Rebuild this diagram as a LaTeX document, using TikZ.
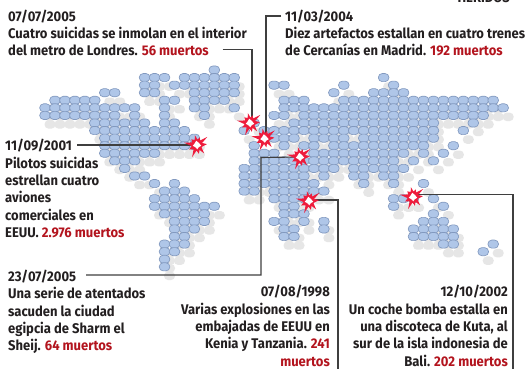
\documentclass[tikz,border=0pt]{standalone}
\usepackage{fontspec}
\setmainfont{Fira Sans}[FakeStretch=0.93]
\definecolor{blob}{HTML}{AFC6E8}
\definecolor{blobline}{HTML}{8299BF}
\definecolor{shade}{HTML}{E6E6E6}
\definecolor{dead}{HTML}{B3141E}
\definecolor{ink}{HTML}{231F20}
\definecolor{leader}{HTML}{3F3F3F}
\definecolor{burst}{HTML}{EE1C3C}
\newcommand{\mapx}[1]{45+9.96*#1}
\newcommand{\mapy}[1]{70+7.57*#1}
\newcommand{\dd}[1]{\textcolor{dead}{#1}}
\newcommand{\boom}[1]{%
  \fill[burst] ($(#1)+(12:6)$) -- ($(#1)+(25:5)$) -- ($(#1)+(50:11)$) -- ($(#1)+(62:5.5)$) -- ($(#1)+(78:9)$) -- ($(#1)+(95:5.5)$) -- ($(#1)+(112:13)$) -- ($(#1)+(128:5.5)$) -- ($(#1)+(150:9)$) -- ($(#1)+(168:5.5)$) -- ($(#1)+(190:13)$) -- ($(#1)+(208:5.5)$) -- ($(#1)+(225:8)$) -- ($(#1)+(245:5.5)$) -- ($(#1)+(258:10)$) -- ($(#1)+(275:5.5)$) -- ($(#1)+(290:8)$) -- ($(#1)+(305:5.5)$) -- ($(#1)+(322:13)$) -- ($(#1)+(338:5.5)$) -- ($(#1)+(355:10)$) -- cycle;
  \fill[white] ($(#1)+(10:4.3)$) -- ($(#1)+(50:2.8)$) -- ($(#1)+(85:4.3)$) -- ($(#1)+(130:2.8)$) -- ($(#1)+(170:4.3)$) -- ($(#1)+(215:2.8)$) -- ($(#1)+(260:4.3)$) -- ($(#1)+(310:2.8)$) -- cycle;
}
\usetikzlibrary{calc}
\tikzset{
  x=1pt,y=-1pt,
  dot/.style={draw=blobline,line width=.65pt,fill=blob,rounded corners=3.9pt},
  shadowdot/.style={fill=shade,rounded corners=4pt},
  lead/.style={draw=leader,line width=1.1pt},
  caption/.style={inner sep=0pt,text=ink,font=\fontsize{14}{17.4}\selectfont\bfseries},
}
\begin{document}
\begin{tikzpicture}
\useasboundingbox (0,0) rectangle (529,369);
\fill[white] (0,0) rectangle (529,369);
\def\maprows{0/17,
1/10,1/11,1/12,1/14,1/15,1/16,1/17,1/18,1/19,1/34,
2/10,2/11,2/13,2/14,2/15,2/16,2/17,2/18,2/19,2/23,2/24,2/30,2/35,
3/6,3/7,3/10,3/11,3/15,3/16,3/17,3/18,3/19,3/29,3/33,3/34,3/35,3/36,
4/1,4/2,4/3,4/4,4/5,4/12,4/13,4/15,4/16,4/17,4/18,4/24,4/25,4/26,4/30,4/31,4/32,4/33,4/34,4/35,4/36,4/37,4/38,4/39,4/40,4/41,4/42,4/43,4/44,4/45,
5/0,5/1,5/2,5/3,5/4,5/5,5/6,5/7,5/8,5/9,5/12,5/15,5/16,5/19,5/24,5/25,5/26,5/27,5/28,5/29,5/30,5/31,5/32,5/33,5/34,5/35,5/36,5/37,5/38,5/39,5/40,5/41,5/42,5/43,5/44,5/45,5/46,
6/0,6/1,6/2,6/3,6/4,6/5,6/6,6/7,6/9,6/12,6/16,6/23,6/24,6/26,6/27,6/28,6/29,6/30,6/31,6/32,6/33,6/34,6/35,6/36,6/37,6/38,6/39,6/40,6/41,6/42,6/43,6/44,
7/5,7/6,7/7,7/8,7/9,7/10,7/12,7/13,7/21,7/25,7/26,7/27,7/28,7/29,7/30,7/31,7/32,7/33,7/34,7/35,7/36,7/37,7/38,7/39,7/43,
8/5,8/6,8/7,8/8,8/9,8/10,8/11,8/12,8/13,8/14,8/20,8/22,8/23,8/24,8/25,8/26,8/27,8/28,8/29,8/30,8/31,8/32,8/33,8/34,8/35,8/36,8/37,8/38,8/39,8/42,
9/6,9/7,9/8,9/9,9/10,9/11,9/12,9/13,9/14,9/15,9/23,9/24,9/25,9/27,9/28,9/29,9/30,9/32,9/33,9/34,9/35,9/36,9/37,9/38,9/39,
10/6,10/7,10/8,10/9,10/10,10/11,10/12,10/13,10/14,10/15,10/21,10/24,10/26,10/27,10/29,10/30,10/31,10/32,10/33,10/34,10/35,10/36,10/37,10/38,10/41,
11/6,11/7,11/8,11/9,11/10,11/11,11/21,11/22,11/23,11/27,11/28,11/29,11/30,11/31,11/32,11/33,11/34,11/35,11/36,11/38,11/40,
12/7,12/8,12/9,12/21,12/22,12/23,12/24,12/25,12/26,12/27,12/28,12/29,12/30,12/31,12/32,12/33,12/34,12/35,12/37,12/39,
13/8,13/20,13/21,13/22,13/23,13/24,13/25,13/26,13/27,13/28,13/29,13/31,13/32,13/33,13/34,13/35,13/36,
14/9,14/10,14/20,14/21,14/22,14/23,14/24,14/25,14/26,14/28,14/31,14/32,14/34,14/35,
15/11,15/13,15/20,15/21,15/22,15/23,15/24,15/25,15/26,15/27,15/32,15/35,15/38,
16/12,16/13,16/14,16/20,16/21,16/23,16/24,16/25,16/26,16/27,16/28,
17/11,17/12,17/13,17/14,17/15,17/23,17/24,17/25,17/26,17/35,17/36,17/37,17/39,
18/11,18/12,18/13,18/14,18/15,18/16,18/17,18/24,18/25,18/35,18/40,
19/12,19/13,19/14,19/15,19/16,19/24,19/25,19/26,19/39,
20/13,20/14,20/15,20/16,20/23,20/24,20/26,20/28,20/38,20/39,20/40,
21/13,21/14,21/15,21/24,21/25,21/28,21/37,21/38,21/39,21/40,21/41,
22/13,22/14,22/24,22/25,22/37,22/38,22/39,22/40,22/41,
23/12,23/13,23/14,23/40,23/41,23/45,
24/12,24/13,24/44,
25/12,
26/12}
\foreach \r/\c in \maprows
  \path[shadowdot] ({\mapx{\c}+5-5.5},{\mapy{\r}+9-4.2}) rectangle ++(11,8.4);
\foreach \r/\c in \maprows
  \path[dot] ({\mapx{\c}-5.3},{\mapy{\r}-4.05}) rectangle ++(10.6,8.1);

\node[caption,align=left,anchor=north west] (londres) at (8,9.5) {07/07/2005\\Cuatro suicidas se inmolan en el interior\\del metro de Londres. \dd{56 muertos}};
\node[caption,align=left,anchor=north west] (madrid) at (285,9.5) {11/03/2004\\Diez artefactos estallan en cuatro trenes\\de Cercanías en Madrid. \dd{192 muertos}};
\node[caption,align=left,anchor=north west] (nyc) at (5,139) {11/09/2001\\Pilotos suicidas\\estrellan cuatro\\aviones\\comerciales en\\EEUU. \dd{2.976 muertos}};
\node[caption,align=left,anchor=north west] (sharm) at (8,269.7) {23/07/2005\\Una serie de atentados\\sacuden la ciudad\\egipcia de Sharm el\\Sheij. \dd{64 muertos}};
\node[caption,align=right,anchor=north east] (kenia) at (330,285) {07/08/1998\\Varias explosiones en las\\embajadas de EEUU en\\Kenia y Tanzania. \dd{241}\\\dd{muertos}};
\node[caption,align=right,anchor=north east] (bali) at (508,285) {12/10/2002\\Un coche bomba estalla en\\una discoteca de Kuta, al\\sur de la isla indonesia de\\Bali. \dd{202 muertos}};
\node[caption,anchor=base east] (heridos) at (510,2.5) {HERIDOS};

\coordinate (bLon) at (250,123);
\coordinate (bMad) at (264.5,138.5);
\coordinate (bNyc) at (197,145);
\coordinate (bSha) at (300,157);
\coordinate (bKen) at (309,201);
\coordinate (bBal) at (413,197);
\coordinate (sLon) at (222.5,49.5);
\coordinate (tLon) at (252,120);
\coordinate (sMad) at (281,16);
\coordinate (tMad) at (266,136);
\coordinate (sNyc) at (77,145);
\coordinate (sSha) at (86,275);
\coordinate (cSha) at (261,157.5);
\coordinate (cKen) at (338,200);
\coordinate (eKen) at (338,369);
\coordinate (cBal) at (513,194.5);
\coordinate (eBal) at (513,369);

\draw[lead] (sLon) -| (tLon);
\draw[lead] (sMad) -| (tMad);
\draw[lead] (sNyc) -- (bNyc);
\draw[lead] (sSha) -| (cSha) -- (bSha);
\draw[lead] (bKen) |- (cKen) -- (eKen);
\draw[lead] (bBal) |- (cBal) -- (eBal);

\boom{bLon}
\boom{bMad}
\boom{bNyc}
\boom{bSha}
\boom{bKen}
\boom{bBal}
\end{tikzpicture}
\end{document}
